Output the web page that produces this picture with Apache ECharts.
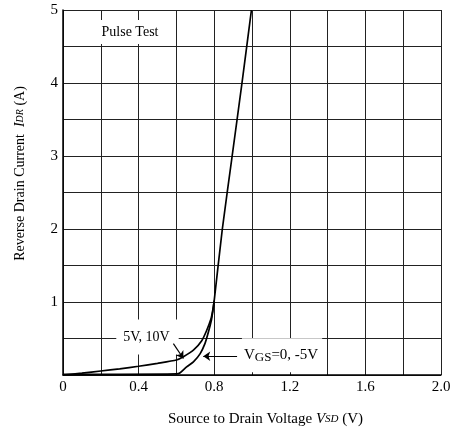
<!DOCTYPE html>
<html><head><meta charset="utf-8">
<script src="https://cdn.jsdelivr.net/npm/echarts@6/dist/echarts.min.js"></script>
<style>html,body{margin:0;padding:0;background:#fff}#c{width:460px;height:432px}</style>
</head><body><div id="c"></div>
<script>
const xTickValues = [0, 0.4, 0.8, 1.2, 1.6, 2.0];
const xTickLabels = ['0', '0.4', '0.8', '1.2', '1.6', '2.0'];
const yTickValues = [1, 2, 3, 4, 5];
const yTickLabels = ['1', '2', '3', '4', '5'];

// VGS = 5V, 10V
const curveVgs5_10 = [[0,0],[0.1,0.025],[0.2,0.055],[0.3,0.085],[0.4,0.12],[0.5,0.16],[0.6,0.205],[0.637,0.25],[0.69,0.34],[0.734,0.47],[0.76,0.61],[0.783,0.77],[0.792,0.88],[0.80,1.02],[0.843,2.0],[0.895,3.0],[0.947,4.0],[0.997,5.0]];
// VGS = 0, -5V
const curveVgs0_m5 = [[0,0.01],[0.3,0.01],[0.6,0.015],[0.62,0.03],[0.654,0.11],[0.69,0.18],[0.725,0.29],[0.751,0.43],[0.769,0.585],[0.785,0.75],[0.793,0.88],[0.80,1.02]];

const annotArrows = [
  [[0.584, 0.43], [0.637, 0.226]],
  [[0.921, 0.257], [0.742, 0.257]]
];
const annotNames = ['Pulse Test', '5V, 10V', 'VGS=0, -5V'];
const annotPos = [[0.299, 4.70], [0.447, 0.52], [1.159, 0.27]];

const serif = 'Liberation Serif';
const chart = echarts.init(document.getElementById('c'));

function tickFmt(vals, labels) {
  return function (v) {
    for (let i = 0; i < vals.length; i++) if (Math.abs(vals[i] - v) < 1e-6) return labels[i];
    return '';
  };
}

const annotLabelCfg = [
  { formatter: annotNames[0], fontSize: 14, padding: [8, 13, 2, 34] },
  { formatter: annotNames[1], fontSize: 14, padding: [2, 9, 19, 7] },
  { formatter: '{v|V}{s|GS}{v|=0, -5V}', fontSize: 15, padding: [8, 4, 8, 2],
    rich: { v: { fontFamily: serif, fontSize: 15, color: '#000' }, s: { fontFamily: serif, fontSize: 13, color: '#000', padding: [5, 0, 0, 0] } } }
];

chart.setOption({
  animation: false,
  backgroundColor: '#fff',
  grid: { left: 63, right: 19, top: 10, bottom: 52 },
  xAxis: {
    type: 'value', min: 0, max: 2, interval: 0.2,
    name: 'Source to Drain Voltage {i|V}{s|SD} (V)',
    nameLocation: 'middle', nameGap: 37,
    nameTextStyle: { fontFamily: serif, fontSize: 15, color: '#000', padding: [0, 0, 0, 27],
      rich: { i: { fontFamily: serif, fontStyle: 'italic', fontSize: 15, color: '#000' },
              s: { fontFamily: serif, fontStyle: 'italic', fontSize: 11, color: '#000' } } },
    axisLine: { lineStyle: { color: '#000', width: 1.5 } },
    axisTick: { show: false },
    axisLabel: { formatter: tickFmt(xTickValues, xTickLabels), fontFamily: serif, fontSize: 15, color: '#000', margin: 5 },
    splitLine: { show: true, lineStyle: { color: '#222', width: 1 } }
  },
  yAxis: {
    type: 'value', min: 0, max: 5, interval: 0.5,
    name: 'Reverse Drain Current  {i|I}{s|DR} (A)',
    nameLocation: 'middle', nameGap: 36, nameRotate: 90,
    nameTextStyle: { fontFamily: serif, fontSize: 14, color: '#000', padding: [0, 0, 0, 38],
      rich: { i: { fontFamily: serif, fontStyle: 'italic', fontSize: 14, color: '#000' },
              s: { fontFamily: serif, fontStyle: 'italic', fontSize: 10, color: '#000' } } },
    axisLine: { show: true, lineStyle: { color: '#000', width: 1.5 } },
    axisTick: { show: false },
    axisLabel: { formatter: tickFmt(yTickValues, yTickLabels), fontFamily: serif, fontSize: 15, color: '#000', margin: 5 },
    splitLine: { show: true, lineStyle: { color: '#222', width: 1 } }
  },
  series: [
    {
      type: 'scatter', z: 1, silent: true, symbolSize: 0,
      itemStyle: { color: '#fff', opacity: 1 },
      data: annotPos.map((p, i) => ({
        value: p,
        label: Object.assign({ show: true, position: 'inside', fontFamily: serif, color: '#000',
          backgroundColor: '#fff', opacity: 1 }, annotLabelCfg[i])
      }))
    },
    {
      name: 'VGS=5V,10V', type: 'line', z: 3, data: curveVgs5_10, showSymbol: false, smooth: 0.2,
      lineStyle: { color: '#000', width: 1.7 },
      markLine: {
        silent: true, symbol: ['none', 'arrow'], symbolSize: 7,
        label: { show: false },
        lineStyle: { color: '#000', width: 1.2, type: 'solid' },
        data: annotArrows.map(a => [{ coord: a[0] }, { coord: a[1] }])
      }
    },
    {
      name: 'VGS=0,-5V', type: 'line', z: 3, data: curveVgs0_m5, showSymbol: false, smooth: 0.2,
      lineStyle: { color: '#000', width: 1.7 }
    }
  ]
});
</script></body></html>
